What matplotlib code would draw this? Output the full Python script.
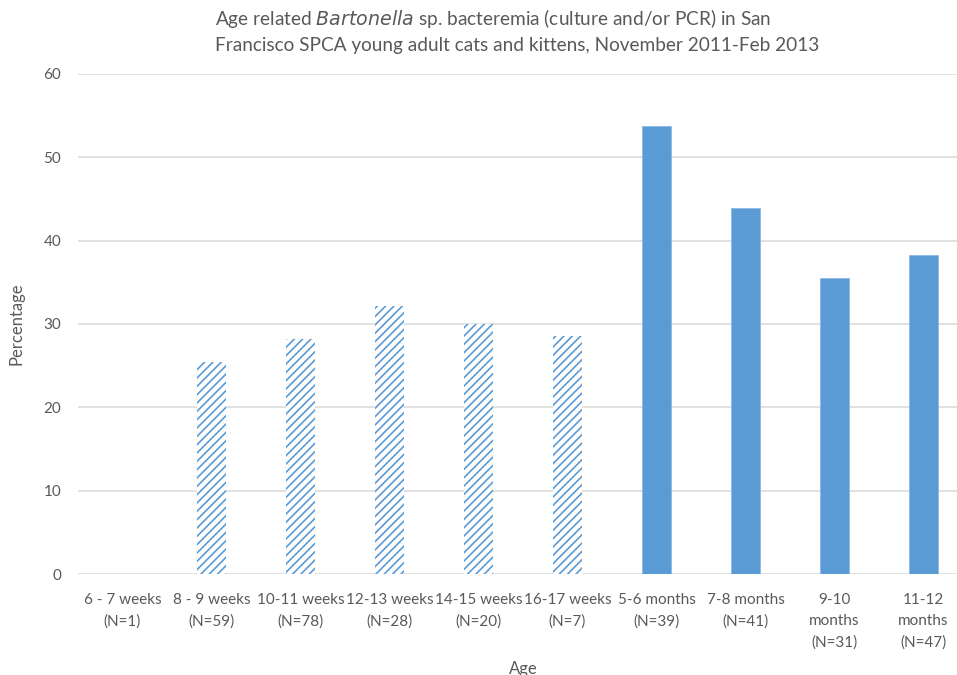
import matplotlib
matplotlib.use("Agg")
import matplotlib.pyplot as plt
import numpy as np

categories = ["6 - 7 weeks\n(N=1)", "8 - 9 weeks\n(N=59)", "10-11 weeks\n(N=78)",
              "12-13 weeks\n(N=28)", "14-15 weeks\n(N=20)", "16-17 weeks\n(N=7)",
              "5-6 months\n(N=39)", "7-8 months\n(N=41)", "9-10\nmonths\n(N=31)",
              "11-12\nmonths\n(N=47)"]
weeks_values = [0, 25.4, 28.2, 32.1, 30.0, 28.6, None, None, None, None]
months_values = [None, None, None, None, None, None, 53.8, 43.9, 35.5, 38.3]
yticks = [0, 10, 20, 30, 40, 50, 60]

plt.rcParams['font.family'] = ['Lato', 'DejaVu Sans']
plt.rcParams['hatch.linewidth'] = 1.2
plt.rcParams['hatch.color'] = '#5B9BD5'

W, H = 957, 675
fig = plt.figure(figsize=(W/100, H/100), dpi=100)
left, right = 78, 968
top, bottom = 74, 574
ax = fig.add_axes([left/W, 1 - bottom/H, (right-left)/W, (bottom-top)/H])

x = np.arange(len(categories))
bw = 0.326
blue = '#5B9BD5'
for i, v in enumerate(weeks_values):
    if v is not None and v > 0:
        ax.bar(x[i], v, width=bw, facecolor='white', edgecolor=blue, hatch='////',
               linewidth=0, zorder=3)
for i, v in enumerate(months_values):
    if v is not None:
        ax.bar(x[i], v, width=bw, color=blue, edgecolor='#8DB9E2', linewidth=0.6, zorder=3)

ax.set_xlim(-0.5, len(categories) - 0.5)
ax.set_ylim(0, 60)
ax.set_yticks(yticks)
ax.set_yticklabels([str(t) for t in yticks])
ax.set_xticks(x)
ax.set_xticklabels(categories, linespacing=1.62)
ax.tick_params(axis='both', length=0, labelsize=11, colors='#595959')
ax.tick_params(axis='x', pad=14)
ax.tick_params(axis='y', pad=12)
ax.grid(axis='y', color='#D9D9D9', linewidth=1.1, zorder=0)
for s in ax.spines.values():
    s.set_visible(False)

ax.set_ylabel("Percentage", fontsize=12, color='#595959', labelpad=14)
ax.set_xlabel("Age", fontsize=12, color='#595959', labelpad=8)

fig.text(215/W, 1 - 19/H, "Age related $\\it{Bartonella}$ sp. bacteremia (culture and/or PCR) in San",
         ha='left', va='center', fontsize=13.7, color='#595959')
fig.text(215/W, 1 - 45/H, "Francisco SPCA young adult cats and kittens, November 2011-Feb 2013",
         ha='left', va='center', fontsize=13.7, color='#595959')

fig.savefig("out.png", dpi=100)
